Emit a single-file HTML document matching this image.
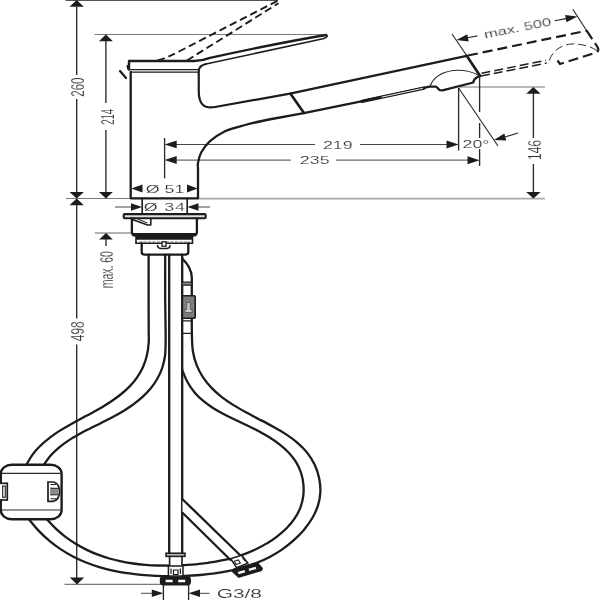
<!DOCTYPE html>
<html>
<head>
<meta charset="utf-8">
<title>Dimension drawing</title>
<style>
html,body{margin:0;padding:0;background:#fff;}
body{width:600px;height:600px;overflow:hidden;font-family:"Liberation Sans",sans-serif;}
svg{display:block;}
.m{stroke:#1c1c1c;stroke-width:2.3;fill:none;stroke-linecap:round;stroke-linejoin:round;}
.t{stroke:#2a2a2a;stroke-width:1.15;fill:none;}
.tv{stroke:#2a2a2a;stroke-width:1.35;fill:none;}
.th{stroke:#3c3c3c;stroke-width:0.95;fill:none;}
.g{stroke:#7a7a7a;stroke-width:1.1;fill:none;}
.a{fill:#1c1c1c;stroke:none;}
text{font-family:"Liberation Sans",sans-serif;fill:#2a2a2a;stroke:#fff;stroke-width:0.14px;font-size:10.5px;text-anchor:middle;}
</style>
</head>
<body>
<svg width="600" height="600" viewBox="0 0 600 600">
<rect width="600" height="600" fill="#fff"/>

<!-- grey extension lines -->
<g class="g">
<path d="M65.5,0.4H278" style="stroke:#555;stroke-width:1.4"/>
<path d="M94.5,34.5H326"/>
<path d="M66,198.5H130"/>
<path d="M459,87H545" style="stroke:#a2a2a2;stroke-width:1.3"/>
<path d="M94.7,233H131" style="stroke:#666"/>
<path d="M64.5,584.4H161"/>
</g>
<path d="M198,198.6H545" stroke="#a9a9a9" stroke-width="1.8" fill="none"/>

<!-- thin dimension lines -->
<g class="tv">
<path d="M76.7,7V75M76.7,99V192M76.7,205V318.5M76.7,344.5V578"/>
<path d="M105.9,41V103M105.9,130V192"/>
<path d="M106,239V246"/>
<path d="M164.6,138V178.3"/>
<path d="M458.6,88V150.5"/>
<path d="M479.6,76V112M479.6,123V138M479.6,149V166"/>
<path d="M533.4,93V138M533.4,164V192.5"/>
<path d="M163.4,584.4V600M188.6,584.4V600"/>
</g>
<g class="th">
<path d="M176,144.5H315M360,144.5H447"/>
<path d="M176,160.1H291M336,160.1H468"/>
<path d="M115,207H131M198,207H210"/>
<path d="M141,593.3H152M200,593.3H209.6"/>
</g>
<g class="t">
<path d="M452,34L467,56M572.8,9.3L586.7,30.7"/>
<path d="M467.5,37.8L477.3,35.9M554.7,20.8L566,18.6"/>
<path d="M458.6,88L498,146"/>
<path d="M505,137L518,133"/>
</g>

<!-- arrows -->
<g class="a">
<polygon points="76.7,0 69.5,6.8 83.9,6.8"/>
<polygon points="76.7,198.6 69.5,192 83.9,192"/>
<polygon points="76.7,198.6 69.5,205.2 83.9,205.2"/>
<polygon points="77,584.4 69.8,577.6 84.2,577.6"/>
<polygon points="105.9,34.5 98.9,41.2 112.9,41.2"/>
<polygon points="105.9,198.6 98.9,192 112.9,192"/>
<polygon points="106,233 99.2,239.6 112.8,239.6"/>
<polygon points="533.4,87 526.2,93.7 540.6,93.7"/>
<polygon points="533.4,198.6 526.2,192 540.6,192"/>
<polygon points="164.6,144.4 176.7,140.5 176.7,148.3"/>
<polygon points="164.6,160 176.7,156.1 176.7,163.9"/>
<polygon points="458.6,144.6 446.5,140.6 446.5,148.6"/>
<polygon points="479.6,160.2 467.5,156.2 467.5,164.2"/>
<polygon points="131.3,188.6 142.5,184.6 142.5,192.6"/>
<polygon points="197.6,188.6 187,184.6 187,192.6"/>
<polygon points="142.2,207 131,203.2 131,210.8"/>
<polygon points="187.3,207 198.5,203.2 198.5,210.8"/>
<polygon points="163.4,593.3 151.8,589.6 151.8,597"/>
<polygon points="188.6,593.3 200,589.6 200,597"/>
<polygon points="456.5,40 467.3,34.2 468.7,41.4"/>
<polygon points="577.3,16.5 565.1,15.1 566.5,22.3"/>
<polygon points="494,140 504.3,133.6 506.3,140.6"/>
</g>

<!-- dimension texts -->
<g opacity="0.99">
<g style="font-size:11.6px">
<text transform="translate(76.9,87.1) scale(1.7,1) rotate(-90)" y="4.15" textLength="19.2" lengthAdjust="spacingAndGlyphs">260</text>
<text transform="translate(106.5,116.9) scale(1.7,1) rotate(-90)" y="4.15" textLength="15.8" lengthAdjust="spacingAndGlyphs">214</text>
<text transform="translate(76.7,331.3) scale(1.7,1) rotate(-90)" y="4.15" textLength="19.9" lengthAdjust="spacingAndGlyphs">498</text>
<text transform="translate(106.3,269.7) scale(1.7,1) rotate(-90)" y="3.9" style="font-size:10.5px">max. 60</text>
<text transform="translate(533.6,150) scale(1.7,1) rotate(-90)" y="4.15" textLength="20" lengthAdjust="spacingAndGlyphs">146</text>
</g>
<text transform="translate(337.8,144.7) scale(1.7,1)" y="3.8">219</text>
<text transform="translate(314.7,160.1) scale(1.7,1)" y="3.8">235</text>
<text transform="translate(165,188.8) scale(1.7,1)" y="3.8">Ø 51</text>
<text transform="translate(164.8,207.3) scale(1.7,1)" y="3.8" style="letter-spacing:0.5px">Ø 34</text>
<text transform="translate(476,143.8) scale(1.7,1)" y="3.8">20°</text>
<text transform="translate(239.3,593.6) scale(1.7,1)" y="4.4" style="font-size:12.3px">G3/8</text>
<text transform="translate(517.5,28) rotate(-11.2) scale(1.58,1)" y="3.8">max. 500</text>
</g>

<!-- dashed raised lever -->
<g fill="none" stroke="#1c1c1c" stroke-width="1.9" stroke-dasharray="7.5 4">
<path d="M157.5,60.5C166,58 172,55.5 180,51L277.5,0.8"/>
<path d="M187,60.5L278.5,3.2"/>
</g>
<path class="m" d="M120,71L126,78M127.6,66L128.4,69"/>

<!-- dashed pulled-out spray head -->
<g fill="none" stroke="#1c1c1c" stroke-width="2.2" stroke-dasharray="10 5">
<path d="M468,55.5L586.7,30.7"/>
<path d="M586.7,30.7L597.5,47Q599.5,50.5 596.5,52.5L560,64L557.5,60.5"/>
</g>
<g fill="none" stroke="#1c1c1c" stroke-width="1.5" stroke-dasharray="9 4">
<path d="M481,76L546.7,63"/>
<path d="M481.5,73.2L546,60.4"/>
</g>
<path d="M549.3,60.5C552,52 560,45 571,44C580,43.5 590,46 597,50.5" fill="none" stroke="#2a2a2a" stroke-width="1" stroke-dasharray="8 4"/>

<!-- faucet body -->
<path class="m" style="stroke-width:2.4" d="M129,69.5V61H194Q202,61 210,57.9Q275,43.6 326,35"/>
<path class="m" style="stroke-width:1.6" d="M326,35Q329.5,36.2 323,38.8L206,64"/>
<path class="m" style="stroke-width:2.2" d="M206,64Q199,65.5 198.75,71V91C198.75,103.5 203.5,109 215,107L290,93.6L466.7,55.8"/>
<path class="m" style="stroke-width:1.3" d="M130.7,69.6H198M130.7,72.2H198"/>
<path class="m" d="M130.7,72V198.3H198V168L198.0,168.0C198.0,167.2 197.5,165.6 198.0,163.0C198.5,160.4 199.2,156.1 201.2,152.5C203.2,148.9 206.0,144.8 210.0,141.2C214.0,137.7 219.2,134.0 225.0,131.2C230.8,128.5 238.8,126.7 245.0,125.0C251.2,123.3 256.2,122.2 262.0,121.0C267.8,119.8 273.0,118.8 280.0,117.5C287.0,116.2 299.8,113.8 303.8,113.1L360,101.6L429.5,86.6L435.8,86.7C437.5,87 438,89.7 440,90.2L442.5,90.3L473.3,82.5C473.5,80 474.5,78.5 477.5,77L480,75.8"/>
<path class="m" style="stroke-width:2.6" d="M466.7,55.8L480,75.8"/>
<path class="m" style="stroke-width:2.6" d="M290.5,93.7L304,113"/>
<path d="M430,86.3C433,78 440,72.5 453,70.5C465,69.5 473,72 479.5,75.8" class="t"/>
<!-- slot -->
<path d="M362,101.4L424,88.1" stroke="#1c1c1c" stroke-width="3.2" stroke-linecap="round" fill="none"/>
<path d="M382,97.1L422.5,88.4" stroke="#fff" stroke-width="0.9" stroke-linecap="round" fill="none"/>

<!-- Ø34 box -->
<path class="m" style="stroke-width:1.6" d="M142.2,198.5V214M187.2,198.5V214"/>

<!-- mounting -->
<rect x="123.7" y="214.1" width="82" height="4.2" rx="1" fill="#e0e0e0" stroke="#1c1c1c" stroke-width="2.1"/>
<path class="m" d="M131.9,218.4V232Q131.9,235.3 135.4,235.3H193.4Q196.9,235.3 196.9,232V218.4"/>
<path d="M132.5,234.6H196.3" stroke="#1c1c1c" stroke-width="3.4" fill="none"/>
<path class="m" style="stroke-width:1.6" d="M131.7,219.2L147.5,225H150.8V219.2"/>
<path class="m" style="stroke-width:1" d="M138,219.2L147,222.8"/>
<path d="M136,236.5H192.5V243.3H136Z" fill="#fff" stroke="#1c1c1c" stroke-width="1.6"/>
<path d="M136,238H192.5" stroke="#1c1c1c" stroke-width="3.4" fill="none"/>
<path d="M139,242.2H190" stroke="#777" stroke-width="1.2" stroke-dasharray="3 1.5" fill="none"/>
<path class="m" d="M141.7,243.3V252Q141.7,254.6 144.5,254.6H185.5Q188.3,254.6 188.3,252V243.3"/>
<path d="M157.5,245.6Q158,248.4 161,248.4H167Q170,248.4 170,245.6" class="m" style="stroke-width:1.5"/>
<rect x="162" y="241.8" width="4" height="4.4" fill="#fff" stroke="#1c1c1c" stroke-width="1.3"/>

<!-- hoses -->
<g class="m">
<!-- pull-out hose outer (left) -->
<path d="M148.6,255.0C148.6,262.5 148.6,287.5 148.6,300.0C148.6,312.5 148.7,322.9 148.7,330.0C148.7,337.1 149.0,338.2 148.7,342.5C148.4,346.8 147.8,351.6 146.8,355.7C145.8,359.8 144.5,363.6 142.9,367.2C141.2,370.8 139.3,374.2 137.1,377.3C135.0,380.5 132.5,383.4 129.9,386.1C127.2,388.9 124.3,391.5 121.3,394.0C118.3,396.4 115.1,398.7 111.8,401.0C108.5,403.2 105.1,405.3 101.6,407.4C98.1,409.5 94.5,411.4 90.9,413.4C87.3,415.4 83.6,417.3 80.0,419.3C76.4,421.2 72.7,423.2 69.2,425.2C65.6,427.2 62.1,429.2 58.7,431.4C55.4,433.6 52.1,435.8 49.0,438.3C45.8,440.7 42.8,443.2 40.1,446.0C37.3,448.7 34.7,451.6 32.4,454.8C30.1,458.0 27.3,463.3 26.2,465.0"/>
<!-- inner (left) -->
<path d="M165.2,255.0C165.2,262.5 165.1,287.5 165.2,300.0C165.3,312.5 165.5,322.9 165.6,330.0C165.7,337.1 165.7,338.2 165.6,342.5C165.5,346.8 165.6,351.8 165.0,356.0C164.4,360.3 163.4,364.3 162.2,368.0C160.9,371.8 159.2,375.4 157.3,378.7C155.4,382.1 153.2,385.2 150.8,388.2C148.3,391.2 145.6,394.0 142.8,396.6C139.9,399.3 136.8,401.8 133.6,404.2C130.3,406.5 126.9,408.8 123.5,410.9C120.0,413.0 116.4,415.1 112.7,417.0C109.1,419.0 105.4,420.8 101.6,422.7C97.9,424.6 94.2,426.3 90.5,428.2C86.8,430.1 83.1,431.9 79.5,433.9C76.0,435.9 72.4,437.9 69.1,440.1C65.7,442.3 62.5,444.6 59.5,447.1C56.4,449.7 53.5,452.4 50.9,455.3C48.3,458.3 44.9,463.4 43.7,465.0"/>
<!-- straight supply hose -->
<path d="M169.2,255V553M182.2,255V553"/>
<!-- right hose upper part -->
<path d="M182,258.3C186,262 191.8,268 191.8,278V300"/>
</g>

<g class="m">
<!-- right outer loop -->
<path d="M191.8,300.0C191.8,305.8 191.7,326.5 191.9,335.0C192.1,343.5 192.1,346.2 192.9,351.2C193.7,356.2 195.0,360.8 196.7,365.2C198.3,369.5 200.5,373.5 202.9,377.2C205.4,381.0 208.2,384.4 211.3,387.6C214.4,390.9 217.9,393.9 221.5,396.8C225.2,399.6 229.1,402.3 233.1,404.9C237.2,407.5 241.5,409.9 245.9,412.3C250.2,414.7 254.8,417.0 259.3,419.4C263.8,421.7 268.4,424.0 272.8,426.5C277.2,428.9 281.6,431.4 285.8,434.1C289.9,436.8 293.9,439.6 297.5,442.8C301.1,445.9 304.5,449.2 307.3,452.9C310.2,456.6 312.7,460.6 314.7,464.8C316.6,469.0 318.2,473.5 319.1,477.9C320.1,482.4 320.5,487.1 320.4,491.7C320.2,496.2 319.4,500.9 318.0,505.3C316.7,509.7 314.6,514.1 312.2,518.3C309.8,522.4 306.8,526.4 303.7,530.2C300.5,533.9 296.9,537.4 293.3,540.7C289.7,543.9 285.9,546.9 281.9,549.6C278.0,552.3 273.9,554.7 269.7,556.9C265.5,559.1 261.1,561.1 256.7,562.8C252.3,564.6 247.8,566.1 243.2,567.5C238.6,568.8 233.9,569.9 229.2,570.9C224.4,571.9 219.6,572.7 214.8,573.4C209.9,574.1 205.0,574.6 200.1,575.0C195.2,575.4 190.3,575.7 185.3,575.9C180.4,576.0 175.5,576.1 170.6,576.1C165.6,576.1 160.7,576.0 155.9,575.8C151.0,575.6 146.1,575.3 141.3,574.9C136.5,574.4 131.7,573.9 127.0,573.2C122.3,572.5 117.6,571.6 113.0,570.6C108.4,569.6 103.8,568.4 99.3,567.1C94.8,565.7 90.4,564.2 86.1,562.5C81.8,560.7 77.5,558.8 73.4,556.7C69.2,554.5 65.2,552.2 61.3,549.6C57.3,547.0 53.5,544.2 49.8,541.1C46.1,538.0 42.4,534.7 39.0,531.1C35.5,527.5 30.7,521.4 29.0,519.5"/>
<!-- right inner loop -->
<path d="M182.2,370.0C183.1,372.1 185.5,378.6 187.6,382.3C189.7,386.1 192.1,389.4 194.6,392.4C197.2,395.5 200.0,398.2 203.0,400.7C206.0,403.3 209.2,405.5 212.6,407.7C215.9,409.8 219.4,411.8 223.0,413.7C226.6,415.6 230.3,417.4 234.1,419.2C237.9,421.1 241.8,422.8 245.7,424.7C249.6,426.6 253.5,428.5 257.4,430.6C261.3,432.7 265.2,434.8 268.9,437.1C272.6,439.4 276.2,441.8 279.5,444.4C282.8,447.0 286.0,449.8 288.8,452.7C291.6,455.7 294.1,458.9 296.1,462.2C298.2,465.6 299.8,469.2 301.1,473.0C302.3,476.7 303.1,480.6 303.4,484.5C303.8,488.4 303.7,492.4 303.2,496.3C302.7,500.2 301.7,504.1 300.3,507.8C298.9,511.5 296.9,515.1 294.7,518.4C292.4,521.8 289.7,525.0 286.8,528.0C283.9,530.9 280.6,533.7 277.3,536.3C274.0,538.9 270.4,541.3 266.8,543.4C263.3,545.6 259.6,547.5 255.9,549.3C252.1,551.1 248.3,552.7 244.4,554.1C240.5,555.5 236.6,556.7 232.6,557.8C228.6,559.0 224.5,559.9 220.4,560.7C216.4,561.6 212.2,562.2 208.1,562.8C203.9,563.4 199.8,563.9 195.6,564.3C191.4,564.7 187.2,564.9 183.0,565.2C178.8,565.4 174.6,565.5 170.4,565.6C166.2,565.6 162.0,565.6 157.9,565.5C153.7,565.4 149.6,565.2 145.4,564.8C141.3,564.5 137.2,564.1 133.2,563.5C129.1,562.9 125.1,562.2 121.1,561.4C117.2,560.6 113.2,559.6 109.3,558.5C105.5,557.4 101.6,556.1 97.9,554.7C94.1,553.3 90.4,551.7 86.8,549.9C83.1,548.1 79.5,546.2 76.1,544.1C72.6,541.9 69.2,539.6 65.8,537.1C62.5,534.6 59.3,531.9 56.1,528.9C53.0,526.0 48.5,521.1 47.0,519.5"/>
</g>

<!-- diagonal supply hose -->
<path d="M182.5,499.2L243.3,558.3L230.5,560L182.5,512.8Z" fill="#fff" stroke="none"/>
<path class="m" d="M182.5,499.2L243.3,558.3M182.5,512.8L230.5,560"/>
<!-- diagonal fitting -->
<path d="M230.7,558.7L241.5,555.3L248,563.3L236.5,567.6Z" fill="#fff" stroke="#1c1c1c" stroke-width="1.5" stroke-linejoin="round"/>
<path d="M234.2,561.2L238.3,560L240.3,563L236.2,564.4Z" fill="#fff" stroke="#1c1c1c" stroke-width="1.1"/>
<path d="M242,557.5L245.5,561.6" stroke="#1c1c1c" stroke-width="1" fill="none"/>
<path d="M232.7,571.3L234.2,569.2L257.3,563.2L262,568.6L261,570.2L238.7,576.7Z" fill="#1c1c1c" stroke="#1c1c1c" stroke-width="2" stroke-linejoin="round"/>
<path d="M237.8,571.9L244.5,570L245.2,572.3L238.6,574.3ZM248.5,568.8L255.6,566.8L256.3,569L249.3,571.1Z" fill="#fff" stroke="none"/>

<!-- straight fitting -->
<rect x="169.4" y="553" width="12.7" height="24" fill="#fff" stroke="none"/>
<rect x="166" y="553.2" width="19" height="3.2" fill="#b5b5b5" stroke="#1c1c1c" stroke-width="1.5"/>
<path class="m" style="stroke-width:1.6" d="M169.6,556.3V566M182,556.3V566"/>
<rect x="168.4" y="566" width="14.6" height="10" fill="#fff" stroke="#1c1c1c" stroke-width="1.5"/>
<path d="M171,568.5V574M180.4,568.5V574M173.5,570H178V574.5H173.5Z" fill="none" stroke="#1c1c1c" stroke-width="1.2"/>
<rect x="160.8" y="577.3" width="29.2" height="7.2" rx="2.4" fill="#1c1c1c" stroke="#1c1c1c" stroke-width="2"/>
<path d="M165.6,579.8H172.6V582.2H165.6ZM178.2,579.8H185.2V582.2H178.2Z" fill="#fff" stroke="none"/>

<!-- weight -->
<rect x="0.8" y="464.8" width="60.8" height="54.5" rx="11" ry="9" fill="#fff" stroke="#1c1c1c" stroke-width="2.4"/>
<path class="t" d="M1.8,473.3H60.6M1.8,510H60.6"/>
<rect x="-2" y="483.3" width="9.3" height="16.7" fill="#fff" stroke="#1c1c1c" stroke-width="1.7"/>
<rect x="2.7" y="486" width="2.6" height="11.3" fill="#fff" stroke="#1c1c1c" stroke-width="1.1"/>
<path d="M48,482H53.5Q59.5,483.5 59.5,491.6Q59.5,499.8 53.5,501.3H48Z" fill="#fff" stroke="#1c1c1c" stroke-width="1.7"/>
<path d="M50.5,484.5H56M50.5,498.8H56M51,487.5V495.5M53,488.5V494.5M55,488.5V494.5M57,488.5V494.5M51,488.3H58.5M51,494.8H58.5" fill="none" stroke="#1c1c1c" stroke-width="1"/>

<!-- hose clip and bands -->
<rect x="182.6" y="282.4" width="8.6" height="2.6" fill="#8a8a8a" stroke="none"/>
<path class="m" style="stroke-width:1.3" d="M182.5,282.2H191.5M182.5,285.2H191.5M182.5,320.8H191.5M182.5,333.3H191.5"/>
<rect x="182.4" y="295.8" width="12.8" height="22.5" rx="1" fill="#7d7d7d" stroke="#1c1c1c" stroke-width="1.6"/>
<path d="M186.8,302.5H190.2V309.5H192V312.5H185V309.5H186.8Z" fill="#c8c8c8" stroke="#3a3a3a" stroke-width="0.6"/>
</svg>
</body>
</html>
